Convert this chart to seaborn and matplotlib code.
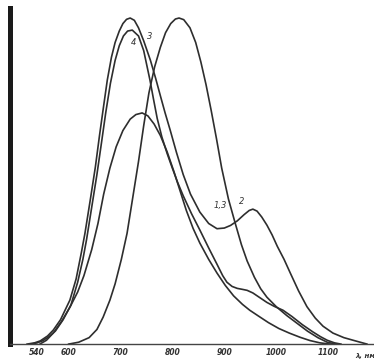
"""
Спектральные кривые (4 кривые, нормированная интенсивность)
"""

import numpy as np
import pandas as pd
import matplotlib
matplotlib.use('Agg')
import matplotlib.pyplot as plt
import seaborn as sns

# кривая 1 - высокий левый пик с горбом справа
x1 = [520, 535, 546, 560, 571, 585, 603, 615, 625, 632, 642, 652, 660, 667, 675, 683,
      690, 698, 705, 712, 719, 727, 735, 745, 758, 768, 777, 786, 796, 808, 821, 835,
      853, 870, 886, 900, 912, 925, 938, 948, 955, 963, 972, 982, 992, 1002, 1015, 1027,
      1043, 1059, 1075, 1090, 1109, 1130, 1150, 1175]
y1 = [0.0, 0.004, 0.01, 0.025, 0.043, 0.075, 0.135, 0.20, 0.28, 0.34, 0.44, 0.543, 0.64, 0.72, 0.81, 0.88,
      0.925, 0.96, 0.983, 0.996, 1.0, 0.993, 0.97, 0.93, 0.87, 0.815, 0.762, 0.71, 0.656, 0.588, 0.52, 0.46,
      0.405, 0.37, 0.354, 0.356, 0.364, 0.378, 0.397, 0.41, 0.414, 0.408, 0.39, 0.365, 0.335, 0.30, 0.26, 0.218,
      0.163, 0.115, 0.08, 0.055, 0.034, 0.02, 0.011, 0.0]

# кривая 2 - чуть ниже, с маленьким плечом
x2 = [528, 540, 550, 562, 575, 590, 605, 618, 628, 635, 645, 655, 664, 672, 681, 690,
      698, 706, 714, 723, 735, 745, 757, 764, 771, 780, 790, 800, 810, 821, 837, 853,
      870, 886, 897, 905, 915, 925, 935, 944, 955, 968, 982, 996, 1013, 1030, 1050, 1070,
      1085, 1098, 1112, 1125]
y2 = [0.0, 0.004, 0.01, 0.022, 0.04, 0.075, 0.12, 0.19, 0.26, 0.32, 0.42, 0.52, 0.62, 0.71, 0.80, 0.87,
      0.915, 0.945, 0.96, 0.963, 0.945, 0.90, 0.81, 0.75, 0.692, 0.635, 0.585, 0.54, 0.497, 0.455, 0.40, 0.35,
      0.295, 0.245, 0.21, 0.19, 0.177, 0.171, 0.168, 0.165, 0.157, 0.143, 0.128, 0.116, 0.104, 0.085, 0.06, 0.038,
      0.023, 0.012, 0.004, 0.0]

# кривая 3 - широкий низкий пик
x3 = [545, 558, 571, 587, 603, 618, 630, 645, 657, 668, 680, 692, 705, 719, 730, 742,
      753, 765, 777, 790, 803, 815, 827, 840, 853, 870, 886, 902, 918, 935, 949, 965,
      985, 1005, 1025, 1046, 1065, 1084, 1105]
y3 = [0.0, 0.012, 0.034, 0.07, 0.113, 0.16, 0.21, 0.29, 0.37, 0.46, 0.54, 0.605, 0.655, 0.69, 0.704, 0.709,
      0.70, 0.675, 0.64, 0.59, 0.53, 0.47, 0.41, 0.355, 0.31, 0.26, 0.218, 0.18, 0.148, 0.122, 0.104, 0.087,
      0.066, 0.048, 0.034, 0.021, 0.011, 0.004, 0.0]

# кривая 4 - правый пик
x4 = [600, 620, 640, 655, 667, 680, 690, 702, 713, 724, 735, 745, 755, 766, 777, 787,
      797, 806, 813, 822, 834, 845, 855, 865, 875, 885, 895, 908, 921, 933, 944, 958,
      970, 982, 1000, 1020, 1040, 1060, 1080, 1098, 1115]
y4 = [0.0, 0.006, 0.02, 0.045, 0.083, 0.135, 0.185, 0.26, 0.34, 0.45, 0.56, 0.67, 0.77, 0.85, 0.91, 0.955,
      0.983, 0.997, 1.0, 0.995, 0.97, 0.925, 0.865, 0.795, 0.715, 0.63, 0.54, 0.445, 0.371, 0.305, 0.255, 0.205,
      0.17, 0.144, 0.115, 0.088, 0.064, 0.04, 0.02, 0.006, 0.0]

tick_pos = [540, 600, 700, 800, 900, 1000, 1100]
tick_labels = ['540', '600', '700', '800', '900', '1000', '1100']
axis_label = 'λ, нм'

curve_labels = ['4', '3', '1,3', '2']
label_x = [725, 757, 892, 934]
label_y = [0.926, 0.942, 0.426, 0.436]

sns.set_style('white')
plt.rcParams['font.family'] = ['DejaVu Sans']

fig = plt.figure(figsize=(3.74, 3.60), dpi=100)
ax = fig.add_axes([0.027, 0.044, 0.973, 0.934])

for xs, ys in [(x1, y1), (x2, y2), (x3, y3), (x4, y4)]:
    df = pd.DataFrame({'x': xs, 'y': ys})
    sns.lineplot(data=df, x='x', y='y', ax=ax, color='#2e2e2e', lw=1.2, estimator=None)

ax.set_xlim(488, 1188)
ax.set_ylim(0, 1.031)
ax.set_xticks(tick_pos)
ax.set_xticklabels(tick_labels, fontsize=5.5, fontweight='bold', style='italic', color='#333333')
ax.tick_params(axis='x', direction='in', length=3, width=0.8, pad=3)
ax.set_yticks([])
ax.set_xlabel('')
ax.set_ylabel('')

ax.text(1171, -0.028, axis_label, fontsize=5, fontweight='bold', style='italic',
        ha='center', va='top', color='#333333')

for t, lx, ly in zip(curve_labels, label_x, label_y):
    ax.text(lx, ly, t, fontsize=6, style='italic', ha='center', va='center', color='#333333')

for s in ['top', 'right']:
    ax.spines[s].set_visible(False)
ax.spines['left'].set_linewidth(3.6)
ax.spines['left'].set_color('#1a1a1a')
ax.spines['bottom'].set_linewidth(1.0)
ax.spines['bottom'].set_color('#444444')

fig.savefig('out.png', dpi=100, facecolor='white')
